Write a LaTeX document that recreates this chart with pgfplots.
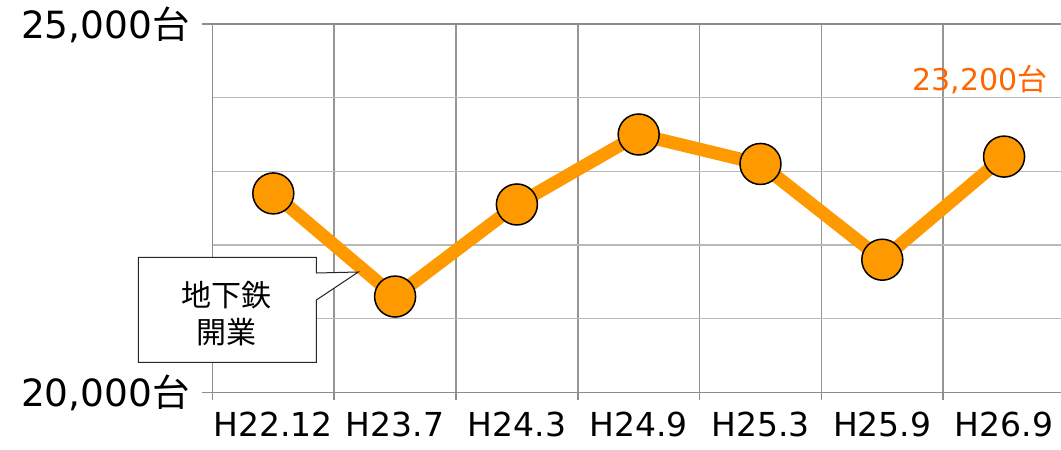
\documentclass[border=0pt]{standalone}
\usepackage{fontspec}
\setmainfont{DejaVu Sans}
\newfontfamily\cjk{Noto Sans CJK JP}
\usepackage{pgfplots}
\pgfplotsset{compat=1.18}
\definecolor{lineorange}{RGB}{255,153,0}
\definecolor{labelorange}{RGB}{255,102,0}
\definecolor{gridlight}{RGB}{185,185,185}
\definecolor{griddark}{RGB}{150,150,150}
\definecolor{axisgray}{RGB}{140,140,140}
\begin{document}
\begin{tikzpicture}[x=1pt,y=1pt]
\useasboundingbox (-212.4,-57.7) rectangle (848.6,392.3);
\begin{axis}[
  at={(0,0)}, anchor=south west,
  scale only axis, width=852.6pt, height=368.3pt,
  xmin=-0.5, xmax=6.5, ymin=20000, ymax=25000,
  scaled y ticks=false,
  xtick={0,...,6},
  xticklabels={H22.12,H23.7,H24.3,H24.9,H25.3,H25.9,H26.9},
  minor xtick={-0.5,0.5,1.5,2.5,3.5,4.5,5.5,6.5},
  ytick={20000,25000},
  yticklabels={{20,000{\cjk 台}},{25,000{\cjk 台}}},
  minor ytick={21000,22000,23000,24000},
  xminorgrids=true, yminorgrids=true,
  x grid style={griddark, line width=1.5pt},
  y grid style={gridlight, line width=1.5pt},
  tick align=outside,
  major tick length=10pt, minor tick length=8pt,
  tick style={axisgray, line width=1.5pt},
  major x tick style={draw=none},
  minor y tick style={draw=none},
  xtick pos=lower, ytick pos=left,
  axis line style={axisgray, line width=1.5pt},
  yticklabel style={font=\fontsize{37.5}{40}\selectfont, xshift=-9pt, yshift=-1pt},
  xticklabel style={font=\fontsize{33}{38}\selectfont, yshift=-6pt},
  clip=false,
]
\addplot[lineorange, line width=13pt, line join=round, mark=*, mark size=20.5pt,
  mark options={fill=lineorange, draw=black, line width=1.5pt}]
  coordinates {(0,22700)(1,21300)(2,22550)(3,23500)(4,23100)(5,21800)(6,23200)};
\node[anchor=east, text=labelorange, font=\fontsize{30}{32}\selectfont, inner sep=0pt]
  at (axis cs:6.36,24240) {23,200{\cjk 台}};
\end{axis}
\draw[fill=white, draw=black!85, line width=1pt]
  (-74,30) -- (104,30) -- (104,92.3) -- (146,120.3) -- (104,119.3) -- (104,135) -- (-74,135) -- cycle;
\node[font=\fontsize{30}{34}\selectfont\cjk, inner sep=0pt] at (14.6,97.3) {地下鉄};
\node[font=\fontsize{30}{34}\selectfont\cjk, inner sep=0pt] at (14.6,60.3) {開業};
\end{tikzpicture}
\end{document}
